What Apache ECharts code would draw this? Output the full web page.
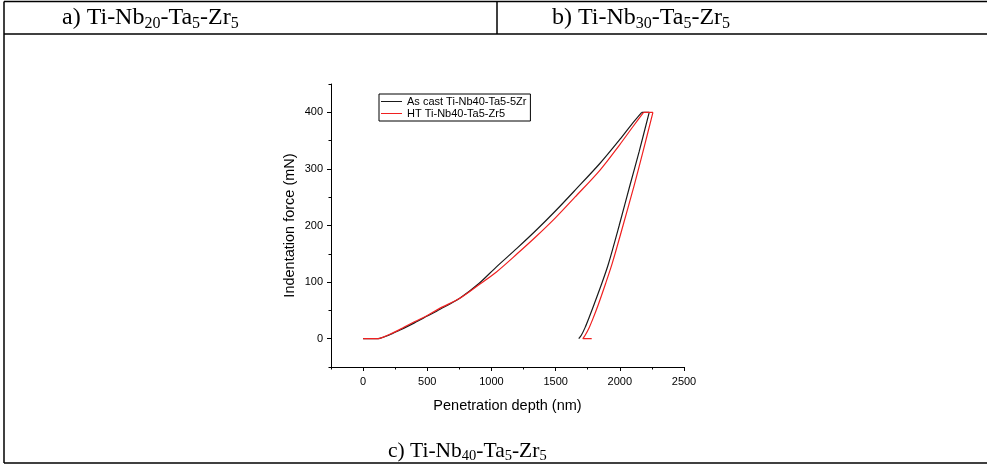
<!DOCTYPE html>
<html><head><meta charset="utf-8">
<script src="https://cdn.jsdelivr.net/npm/echarts@6/dist/echarts.min.js"></script>
<style>html,body{margin:0;padding:0;background:#fff}#c{width:987px;height:465px}</style>
</head><body><div id="c"></div>
<script>
// As cast Ti-Nb40-Ta5-5Zr
const asCastLoadDepth = [0,50,100,130,200,284,400,500,600,750,900,1039,1200,1350,1500,1650,1846,2000,2100,2171];
const asCastLoadForce = [0,0,0,0.5,6,15,28,40,52,71,97,127,160,192,226,262,310,352,381,400];
const asCastUnloadDepth = [2229,2150,2080,1995,1911,1860,1800,1760,1730,1700,1680];
const asCastUnloadForce = [400,330,272,200,132,98,61,37,20,6,0];
// HT Ti-Nb40-Ta5-Zr5
const htLoadDepth = [0,50,100,130,200,284,400,500,600,750,900,1039,1200,1350,1500,1650,1846,2000,2100,2185];
const htLoadForce = [0,0,0,0.5,7,16,30,41,54,71,95,118,150,181,214,250,298,343,374,400];
const htUnloadDepth = [2258,2180,2112,2025,1942,1890,1832,1790,1762,1730,1712,1781];
const htUnloadForce = [400,330,271,200,134,98,60,35,20,6,0,0];

const seriesNames = ['As cast Ti-Nb40-Ta5-5Zr','HT Ti-Nb40-Ta5-Zr5'];
const seriesColors = ['#1a1a1a','#f02020'];
const xMajorTicks = [0,500,1000,1500,2000,2500];
const yMajorTicks = [0,100,200,300,400];

const pairs = (xs, ys) => xs.map((x, i) => [x, ys[i]]);
const serif = 'Liberation Serif';
const sans = 'Liberation Sans';
const cap = (x, y, parts, big, small) => ({
  type: 'text', x: x, y: y,
  style: {
    text: parts.map((p, i) => (i % 2 === 0 ? '{n|' : '{s|') + p + '}').join(''),
    verticalAlign: 'middle',
    rich: {
      n: {fontFamily: serif, fontSize: big, lineHeight: big + 3, fill: '#000'},
      s: {fontFamily: serif, fontSize: small, lineHeight: small, verticalAlign: 'bottom', fill: '#000'}
    }
  }
});

function curve(name, color, ld, lf, ud, uf) {
  const load = pairs(ld, lf), unload = pairs(ud, uf);
  const base = {name: name, type: 'line', showSymbol: false, symbol: 'none',
    lineStyle: {color: color, width: 1.2}, itemStyle: {color: color}};
  return [
    Object.assign({}, base, {data: load, smooth: 0.3}),
    Object.assign({}, base, {data: [load[load.length - 1], unload[0]], smooth: false}),
    Object.assign({}, base, {data: unload, smooth: 0.3})
  ];
}

const chart = echarts.init(document.getElementById('c'), null, {renderer: 'canvas'});
chart.setOption({
  animation: false,
  backgroundColor: '#fff',
  grid: {left: 331, top: 84, width: 353, height: 283, containLabel: false},
  legend: {
    orient: 'vertical', left: 379, top: 94,
    padding: [2, 4, 2, 2], itemGap: 1, itemWidth: 21, itemHeight: 1, icon: 'rect',
    borderColor: '#000', borderWidth: 1,
    textStyle: {fontFamily: sans, fontSize: 11, color: '#000'},
    data: seriesNames.map((n, i) => ({name: n, itemStyle: {color: seriesColors[i]}}))
  },
  xAxis: [{
    type: 'value', min: -250, max: 2500,
    name: 'Penetration depth (nm)', nameLocation: 'middle', nameGap: 31,
    nameTextStyle: {fontFamily: sans, fontSize: 14.5, color: '#000'},
    axisLine: {show: true, onZero: false, lineStyle: {color: '#000', width: 1}},
    axisTick: {show: true, length: 4, customValues: xMajorTicks, lineStyle: {color: '#000'}},
    axisLabel: {customValues: xMajorTicks, formatter: v => String(v), fontFamily: sans, fontSize: 11, color: '#000', margin: 9},
    splitLine: {show: false}
  }, {
    type: 'value', min: -250, max: 2500, interval: 250, position: 'bottom',
    axisLine: {show: false, onZero: false},
    axisTick: {show: true, length: 2.5, lineStyle: {color: '#000'}},
    axisLabel: {show: false}, splitLine: {show: false}
  }],
  yAxis: [{
    type: 'value', min: -50, max: 450,
    name: 'Indentation force (mN)', nameLocation: 'middle', nameGap: 34,
    nameTextStyle: {fontFamily: sans, fontSize: 14.5, color: '#000'},
    axisLine: {show: true, onZero: false, lineStyle: {color: '#000', width: 1}},
    axisTick: {show: true, length: 4, customValues: yMajorTicks, lineStyle: {color: '#000'}},
    axisLabel: {customValues: yMajorTicks, formatter: v => String(v), fontFamily: sans, fontSize: 11, color: '#000', margin: 8},
    splitLine: {show: false}
  }, {
    type: 'value', min: -50, max: 450, interval: 50, position: 'left',
    axisLine: {show: false, onZero: false},
    axisTick: {show: true, length: 2.5, lineStyle: {color: '#000'}},
    axisLabel: {show: false}, splitLine: {show: false}
  }],
  series: [].concat(
    curve(seriesNames[0], seriesColors[0], asCastLoadDepth, asCastLoadForce, asCastUnloadDepth, asCastUnloadForce),
    curve(seriesNames[1], seriesColors[1], htLoadDepth, htLoadForce, htUnloadDepth, htUnloadForce)
  ),
  graphic: [
    {type: 'line', shape: {x1: 4, y1: 1.5, x2: 987, y2: 1.5}, style: {stroke: '#000', lineWidth: 1.5}},
    {type: 'line', shape: {x1: 4, y1: 34, x2: 987, y2: 34}, style: {stroke: '#000', lineWidth: 1.5}},
    {type: 'line', shape: {x1: 4, y1: 463, x2: 987, y2: 463}, style: {stroke: '#000', lineWidth: 1.5}},
    {type: 'line', shape: {x1: 4, y1: 1.5, x2: 4, y2: 463}, style: {stroke: '#000', lineWidth: 1.5}},
    {type: 'line', shape: {x1: 497, y1: 1.5, x2: 497, y2: 34}, style: {stroke: '#000', lineWidth: 1.5}},
    cap(62, 18, ['a) Ti-Nb', '20', '-Ta', '5', '-Zr', '5'], 24, 16),
    cap(552, 18, ['b) Ti-Nb', '30', '-Ta', '5', '-Zr', '5'], 24, 16),
    cap(388, 451, ['c) Ti-Nb', '40', '-Ta', '5', '-Zr', '5'], 21.5, 14.5)
  ]
});
</script></body></html>
